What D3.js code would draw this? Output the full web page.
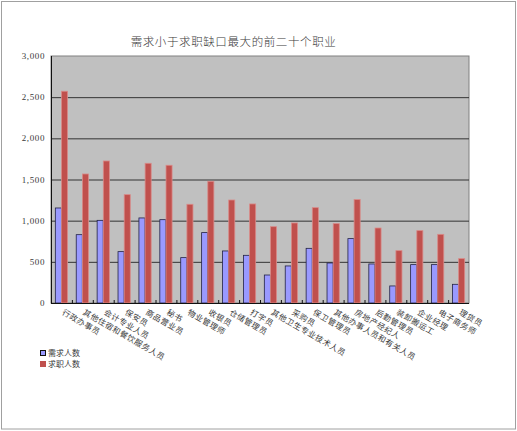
<!DOCTYPE html>
<html lang="zh">
<head>
<meta charset="UTF-8">
<title>需求小于求职缺口最大的前二十个职业</title>
<script src="https://d3js.org/d3.v7.min.js"></script>
<style>
    html, body {margin: 0; padding: 0; background: #fff; overflow: hidden}
    svg text {fill: #3a3a3a; font-family: "Noto Sans CJK SC", sans-serif}
    .ytick {font-family: "Liberation Serif", serif; font-size: 9px; letter-spacing: 0.6px}
</style>
</head>
<body>
<div id="chart"></div>
<script>
// données
const titre = "需求小于求职缺口最大的前二十个职业";
const metiers = ["行政办事员", "其他住宿和餐饮服务人员", "会计专业人员", "保安员", "商品营业员",
    "秘书", "物业管理师", "收银员", "仓储管理员", "打字员",
    "其他卫生专业技术人员", "采购员", "保卫管理员", "其他办事人员和有关人员", "房地产经纪人",
    "后勤管理员", "装卸搬运工", "企业经理", "电子商务师", "理货员"];
const demande = [1154, 830, 1004, 624, 1033, 1012, 551, 855, 632, 579,
    340, 450, 664, 486, 782, 474, 207, 466, 466, 227];
const offre = [2572, 1567, 1725, 1316, 1697, 1673, 1199, 1478, 1251, 1203,
    927, 972, 1158, 964, 1256, 911, 636, 879, 834, 539];
const series = ["需求人数", "求职人数"];
const couleurs = ["#9999ff", "#c0504d"];
const bords = ["#222244", "#d98a88"];
const yTicks = [0, 500, 1000, 1500, 2000, 2500, 3000];

const W = 517, H = 431;
const m = {left: 51, right: 48, top: 56, bottom: 128};

const svg = d3.select("#chart").append("svg")
    .attr("width", W).attr("height", H);

// cadre du graphique
svg.append("rect").attr("x", 1.5).attr("y", 1.5)
    .attr("width", W - 3).attr("height", H - 3.5)
    .attr("fill", "#fff").attr("stroke", "#a0a0a0");

svg.append("text").attr("x", 233.5).attr("y", 46)
    .attr("text-anchor", "middle").attr("font-size", 11.5).attr("letter-spacing", 0.6)
    .attr("font-weight", 300)
    .text(titre);

const x = d3.scaleBand().domain(metiers).range([m.left, W - m.right]);
const y = d3.scaleLinear().domain([0, 3000]).range([H - m.bottom, m.top]);

const sub = d3.scaleBand().domain(series)
    .range([0, x.bandwidth()]).paddingInner(0.02).paddingOuter(0.7);

// fond gris
svg.append("rect")
    .attr("x", m.left).attr("y", m.top)
    .attr("width", x.range()[1] - m.left).attr("height", y(0) - m.top)
    .attr("fill", "#c0c0c0").attr("stroke", "#808080");

// lignes de grille
svg.append("g").selectAll("line").data(yTicks.filter(d => d > 0 && d < 3000)).join("line")
    .attr("x1", m.left).attr("x2", x.range()[1])
    .attr("y1", d => y(d) + 0.5).attr("y2", d => y(d) + 0.5)
    .attr("stroke", "#333").attr("stroke-width", 1);

// étiquettes de l'axe Y
svg.append("g").selectAll("text").data(yTicks).join("text")
    .attr("class", "ytick")
    .attr("x", 45).attr("y", d => y(d) + 3)
    .attr("text-anchor", "end")
    .text(d => d3.format(",")(d));

// barres
const groupes = metiers.map((mt, i) => ({mt, vals: [demande[i], offre[i]]}));
const g = svg.append("g").selectAll("g").data(groupes).join("g")
    .attr("transform", d => `translate(${x(d.mt)},0)`);
g.selectAll("rect").data(d => d.vals.map((v, k) => ({k, v}))).join("rect")
    .attr("x", d => sub(series[d.k]))
    .attr("y", d => y(d.v))
    .attr("width", sub.bandwidth())
    .attr("height", d => y(0) - y(d.v))
    .attr("fill", d => couleurs[d.k])
    .attr("stroke", d => bords[d.k]).attr("stroke-width", 0.8);

// axes
svg.append("line").attr("x1", m.left + 0.5).attr("x2", m.left + 0.5)
    .attr("y1", m.top).attr("y2", y(0)).attr("stroke", "#111");
svg.append("line").attr("x1", m.left).attr("x2", x.range()[1])
    .attr("y1", y(0) + 0.5).attr("y2", y(0) + 0.5).attr("stroke", "#111");
svg.append("g").selectAll("line").data(metiers.slice(1)).join("line")
    .attr("x1", d => x(d) + 0.5).attr("x2", d => x(d) + 0.5)
    .attr("y1", y(0) - 3).attr("y2", y(0))
    .attr("stroke", "#111");

// étiquettes de catégories inclinées
svg.append("g").selectAll("text").data(metiers).join("text")
    .attr("transform", d => `translate(${x(d) + x.bandwidth() / 2},${y(0) + 11}) rotate(30)`)
    .attr("font-size", 8).attr("letter-spacing", 0.45)
    .text(d => d);

// légende
const leg = svg.append("g").attr("transform", "translate(40,350)");
series.forEach((s, k) => {
    leg.append("rect").attr("x", 0.5).attr("y", k * 11 + 0.5)
        .attr("width", 5).attr("height", 5)
        .attr("fill", couleurs[k]).attr("stroke", k === 0 ? "#111" : couleurs[k]);
    leg.append("text").attr("x", 8).attr("y", k * 11 + 6)
        .attr("font-size", 8).text(s);
});
</script>
</body>
</html>
